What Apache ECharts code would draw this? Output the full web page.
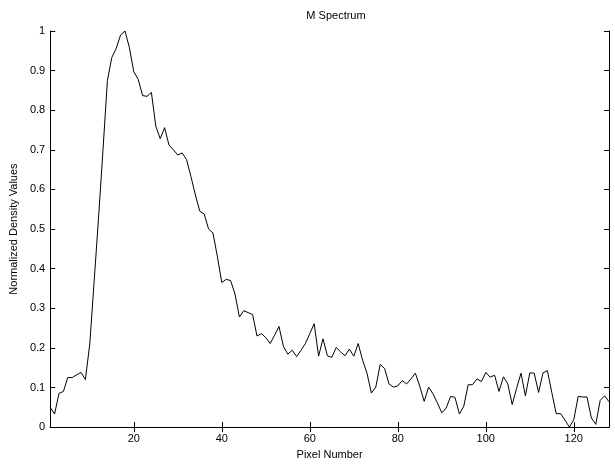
<!DOCTYPE html>
<html>
<head>
<meta charset="utf-8">
<style>html,body{margin:0;padding:0;background:#fff;}#c{width:615px;height:465px;}</style>
<script src="https://cdn.jsdelivr.net/npm/echarts@6/dist/echarts.min.js"></script>
</head>
<body>
<div id="c"></div>
<script>
const titleText = 'M Spectrum';
const xName = 'Pixel Number';
const yName = 'Normalized Density Values';
const xTicks = [20, 40, 60, 80, 100, 120];
const pixels = [];
for (let i = 1; i <= 128; i++) pixels.push(i);
const density = [
  0.05, 0.033, 0.085, 0.09, 0.125, 0.125, 0.132, 0.138, 0.12, 0.21,
  0.37, 0.53, 0.70, 0.875, 0.933, 0.956, 0.99, 1.0, 0.958, 0.897,
  0.878, 0.837, 0.835, 0.845, 0.76, 0.728, 0.756, 0.712, 0.70, 0.687,
  0.692, 0.675, 0.632, 0.586, 0.545, 0.538, 0.50, 0.49, 0.43, 0.365,
  0.373, 0.37, 0.336, 0.278, 0.294, 0.289, 0.284, 0.23, 0.236, 0.226,
  0.211, 0.232, 0.254, 0.204, 0.184, 0.194, 0.178, 0.194, 0.211, 0.236,
  0.261, 0.179, 0.223, 0.18, 0.176, 0.201, 0.19, 0.18, 0.197, 0.179,
  0.211, 0.169, 0.136, 0.086, 0.101, 0.158, 0.148, 0.109, 0.101, 0.104,
  0.1175, 0.109, 0.122, 0.136, 0.1025, 0.065, 0.101, 0.084, 0.061, 0.036,
  0.048, 0.0775, 0.075, 0.033, 0.053, 0.107, 0.107, 0.122, 0.115, 0.138,
  0.126, 0.131, 0.09, 0.127, 0.109, 0.057, 0.098, 0.136, 0.079, 0.137,
  0.136, 0.0875, 0.137, 0.1425, 0.0875, 0.034, 0.034, 0.0175, 0.0, 0.019,
  0.0775, 0.076, 0.076, 0.023, 0.007, 0.0675, 0.079, 0.064
];

const font = 'Liberation Sans, Arial, Helvetica, sans-serif';
const chart = echarts.init(document.getElementById('c'), null, {renderer: 'canvas'});
const data = pixels.map((p, i) => [p, density[i]]);
const axisLineStyle = {color: '#000', width: 1};
chart.setOption({
  animation: false,
  backgroundColor: '#fff',
  title: {
    text: titleText, left: 331, top: 5, textAlign: 'center',
    textStyle: {fontFamily: font, fontSize: 11, fontWeight: 'normal', color: '#000'}
  },
  grid: {left: 50, right: 6, top: 31, bottom: 34, containLabel: false},
  xAxis: [{
    type: 'value', min: 1, max: 128, position: 'bottom',
    name: xName, nameLocation: 'middle', nameGap: 17,
    nameTextStyle: {fontFamily: font, fontSize: 11, color: '#000'},
    axisLine: {show: true, lineStyle: axisLineStyle},
    axisTick: {show: true, inside: true, length: 5, customValues: xTicks, lineStyle: axisLineStyle},
    axisLabel: {show: true, customValues: xTicks, fontFamily: font, fontSize: 11, color: '#000', margin: 6},
    splitLine: {show: false}
  }, {
    type: 'value', min: 1, max: 128, position: 'top',
    axisLine: {show: true, lineStyle: axisLineStyle},
    axisTick: {show: true, inside: true, length: 5, customValues: xTicks, lineStyle: axisLineStyle},
    axisLabel: {show: false},
    splitLine: {show: false}
  }],
  yAxis: [{
    type: 'value', min: 0, max: 1, interval: 0.1, position: 'left',
    name: yName, nameLocation: 'middle', nameGap: 27,
    nameTextStyle: {fontFamily: font, fontSize: 11, color: '#000'},
    axisLine: {show: true, lineStyle: axisLineStyle},
    axisTick: {show: true, inside: true, length: 5, lineStyle: axisLineStyle},
    axisLabel: {show: true, fontFamily: font, fontSize: 11, color: '#000', margin: 5,
      formatter: v => String(Math.round(v * 10) / 10)},
    splitLine: {show: false}
  }, {
    type: 'value', min: 0, max: 1, interval: 0.1, position: 'right',
    axisLine: {show: true, lineStyle: axisLineStyle},
    axisTick: {show: true, inside: true, length: 5, lineStyle: axisLineStyle},
    axisLabel: {show: false},
    splitLine: {show: false}
  }],
  series: [{
    type: 'line', xAxisIndex: 0, yAxisIndex: 0, data: data,
    showSymbol: false, symbol: 'none',
    lineStyle: {color: '#000', width: 1}
  }]
});
</script>
</body>
</html>
